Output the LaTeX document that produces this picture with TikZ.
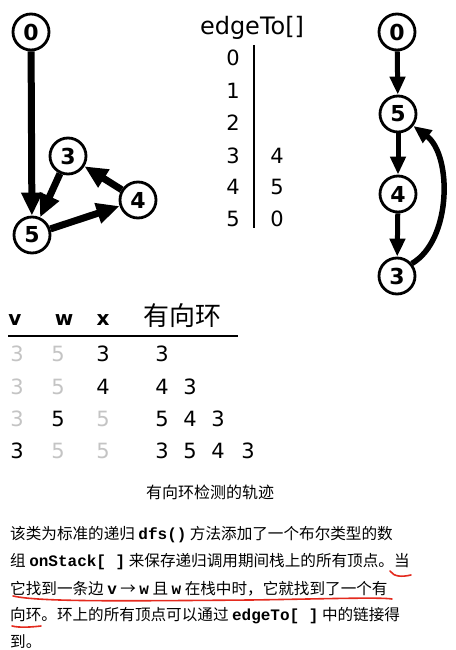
\documentclass[tikz,border=0pt]{standalone}
\usepackage{fontspec}
\setmainfont{DejaVu Sans}
\newfontfamily\cjk{Noto Sans CJK SC}
\newfontfamily\monof{Liberation Mono}
\usetikzlibrary{arrows.meta}
\definecolor{lgray}{HTML}{C4C4C4}
\definecolor{penred}{HTML}{E42A1E}
\newcommand\codetxt[1]{{\monof\bfseries\fontsize{16}{16}\selectfont #1}}
\begin{document}
\begin{tikzpicture}[x=1pt,y=-1pt,
  vtx/.style={circle,draw,line width=2.8pt,minimum size=36pt,inner sep=0pt,fill=white,
    font=\bfseries\fontsize{22}{22}\selectfont},
  bigarr/.style={line width=7pt,-{Triangle[length=23pt,width=20pt]}},
  smallarr/.style={line width=5pt,-{Triangle[length=18pt,width=15pt]}},
  num/.style={anchor=base,inner sep=0pt,font=\fontsize{21}{21}\selectfont},
  gnum/.style={num,text=lgray},
  hdr/.style={anchor=base,inner sep=0pt,font=\bfseries\fontsize{20}{20}\selectfont},
  para/.style={anchor=base west,inner sep=0pt,font=\cjk\fontsize{15.6}{15.6}\selectfont},
  pen/.style={penred,line width=1.6pt,line cap=round}]
\useasboundingbox[fill=white] (0,0) rectangle (455,650);

% left graph
\node[vtx] (L0) at (31,32) {0};
\node[vtx] (L3) at (68,156) {3};
\node[vtx] (L4) at (138,200) {4};
\node[vtx] (L5) at (32,235) {5};
\draw[bigarr] (L0) -- (L5);
\draw[bigarr] (L3) -- (L5);
\draw[bigarr] (L5) -- (L4);
\draw[bigarr] (L4) -- (L3);

% edgeTo array
\node[anchor=base,inner sep=0pt,font=\fontsize{24}{24}\selectfont] (et) at (252,35) {edgeTo[]};
\node[num] (i0) at (233,66) {0};
\node[num] (i1) at (233,99) {1};
\node[num] (i2) at (233,131) {2};
\node[num] (i3) at (233,163) {3};
\node[num] (i4) at (233,194) {4};
\node[num] (i5) at (233,226) {5};
\node[num] (e3) at (277,163) {4};
\node[num] (e4) at (277,194) {5};
\node[num] (e5) at (277,226) {0};
\coordinate (vt) at (254,45);
\coordinate (vb) at (254,228);
\draw[line width=2.4pt] (vt) -- (vb);

% right graph
\node[vtx] (R0) at (397,32) {0};
\node[vtx] (R5) at (398,114) {5};
\node[vtx] (R4) at (398,194) {4};
\node[vtx] (R3) at (397,276) {3};
\draw[smallarr] (R0) -- (R5);
\draw[smallarr] (R5) -- (R4);
\draw[smallarr] (R4) -- (R3);
\draw[smallarr,line width=5.5pt] (R3.40) .. controls (452,240) and (452,155) .. (R5.-38);

% table
\node[hdr] (hv) at (15,325) {v};
\node[hdr] (hw) at (64,325) {w};
\node[hdr] (hx) at (103,325) {x};
\node[anchor=base,inner sep=0pt,font=\cjk\fontsize{26}{26}\selectfont] (hc) at (182,325) {有向环};
\coordinate (tl) at (8,336);
\coordinate (tr) at (238,336);
\draw[line width=2.8pt] (tl) -- (tr);

\node[gnum] (a1) at (17,361) {3};
\node[gnum] (b1) at (58,361) {5};
\node[num]  (c1) at (103,361) {3};
\node[num]  (d1) at (162,361) {3};

\node[gnum] (a2) at (17,394) {3};
\node[gnum] (b2) at (58,394) {5};
\node[num]  (c2) at (103,394) {4};
\node[num]  (d2) at (162,394) {4};
\node[num]  (f2) at (190,394) {3};

\node[gnum] (a3) at (17,426) {3};
\node[num]  (b3) at (58,426) {5};
\node[gnum] (c3) at (103,426) {5};
\node[num]  (d3) at (162,426) {5};
\node[num]  (f3) at (190,426) {4};
\node[num]  (g3) at (218,426) {3};

\node[num]  (a4) at (17,458) {3};
\node[gnum] (b4) at (58,458) {5};
\node[gnum] (c4) at (103,458) {5};
\node[num]  (d4) at (162,458) {3};
\node[num]  (f4) at (190,458) {5};
\node[num]  (g4) at (218,458) {4};
\node[num]  (h4) at (248,458) {3};

% caption
\node[inner sep=0pt,font=\cjk\fontsize{16}{16}\selectfont] (cap) at (210,492) {有向环检测的轨迹};

% paragraph
\node[para] (p1) at (10,539) {该类为标准的递归 \codetxt{dfs()} 方法添加了一个布尔类型的数};
\node[para] (p2) at (10,566) {组 \codetxt{onStack[ ]} 来保存递归调用期间栈上的所有顶点。当};
\node[para] (p3) at (10,594) {它找到一条边 \codetxt{v} → \codetxt{w} 且 \codetxt{w} 在栈中时，它就找到了一个有};
\node[para] (p4) at (10,620) {向环。环上的所有顶点可以通过 \codetxt{edgeTo[ ]} 中的链接得};
\node[para] (p5) at (10,647) {到。};

% red pen marks
\draw[pen] (390,571) .. controls (394,577) and (402,577) .. (411,575);
\draw[pen] (13,596) .. controls (40,602) and (120,601) .. (250,600) .. controls (320,599) and (380,597) .. (392,599);
\draw[pen] (12,626) .. controls (20,628) and (32,627) .. (41,626);
\end{tikzpicture}
\end{document}
